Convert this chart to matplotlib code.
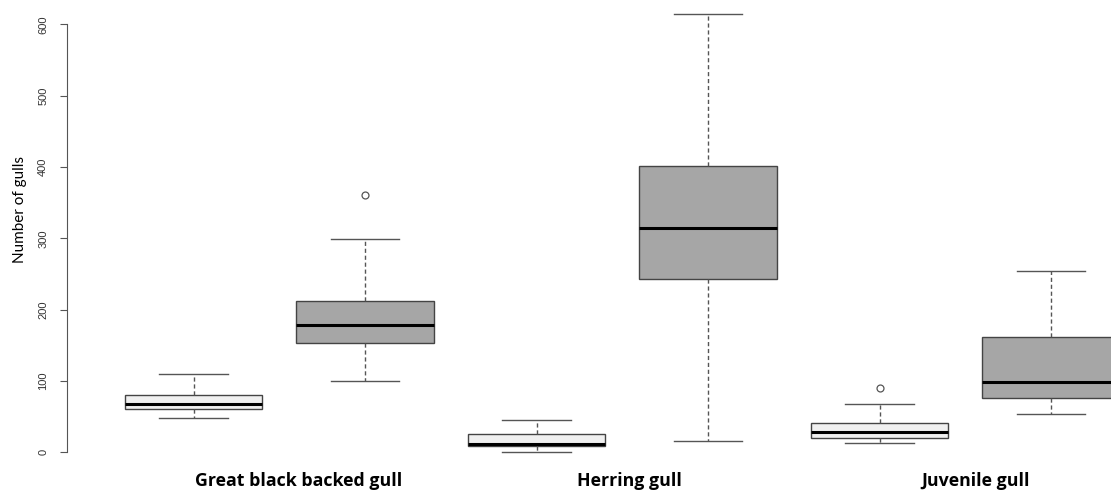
import matplotlib.pyplot as plt
import matplotlib.transforms as mtransforms

# box statistics (two boxes per gull group)
groups = ["Great black backed gull", "Herring gull", "Juvenile gull"]
whislo = [48.5, 99.5, 1, 16, 12.6, 53.3]
q1 = [60.3, 152.8, 9, 242.5, 19.6, 76.6]
med = [67.7, 178.5, 11, 314.5, 28.5, 98.6]
q3 = [79.9, 212, 25.7, 401.4, 40.6, 161.2]
whishi = [109.8, 298.6, 45.3, 614, 67.3, 254.6]
fliers = [[], [360.7], [], [], [89.7], []]
fills = ["#f0f0f0", "#a6a6a6"] * 3

stats = []
for i in range(6):
    stats.append(dict(whislo=whislo[i], q1=q1[i], med=med[i], q3=q3[i],
                      whishi=whishi[i], fliers=fliers[i]))

fig = plt.figure(figsize=(11.11, 4.92), dpi=100)
ax = fig.add_axes([0.06, 0.0451, 1.0003, 0.9614])

bp = ax.bxp(stats, positions=range(1, 7), widths=0.8, patch_artist=True,
            showfliers=True,
            boxprops=dict(edgecolor="#444444", linewidth=1),
            medianprops=dict(color="black", linewidth=2.2),
            whiskerprops=dict(color="#555555", linestyle=(0, (3, 2)), linewidth=1),
            capprops=dict(color="#555555", linewidth=1),
            capwidths=0.4,
            flierprops=dict(marker="o", markersize=5, markerfacecolor="none",
                            markeredgecolor="#555555", markeredgewidth=0.9))
for patch, c in zip(bp["boxes"], fills):
    patch.set_facecolor(c)

ax.set_xlim(0.26, 6.74)
ax.set_ylim(-24.6, 638.6)
for s in ["top", "right", "bottom"]:
    ax.spines[s].set_visible(False)
ax.spines["left"].set_bounds(0, 600)
ax.spines["left"].set_color("#555555")
ax.set_xticks([])
ax.set_yticks(range(0, 601, 100))
ax.tick_params(axis="y", length=5.3, color="#555555", pad=8, labelsize=8,
               labelcolor="#333333")
for lab in ax.get_yticklabels():
    lab.set_rotation(90)
    lab.set_verticalalignment("center")
    lab.set_fontfamily("Liberation Sans")

fig.text(20 / 1111, 1 - 210 / 492, "Number of gulls", rotation=90,
         ha="center", va="center", fontsize=11, family="Lato")

trans = mtransforms.blended_transform_factory(ax.transData, fig.transFigure)
label_x = [1.61, 3.54, 5.56]
for x, g in zip(label_x, groups):
    ax.text(x, 1 - 481 / 492, g, transform=trans, ha="center", va="center",
            fontsize=12.8, fontweight="bold", family="Open Sans")

fig.savefig("out.png")
